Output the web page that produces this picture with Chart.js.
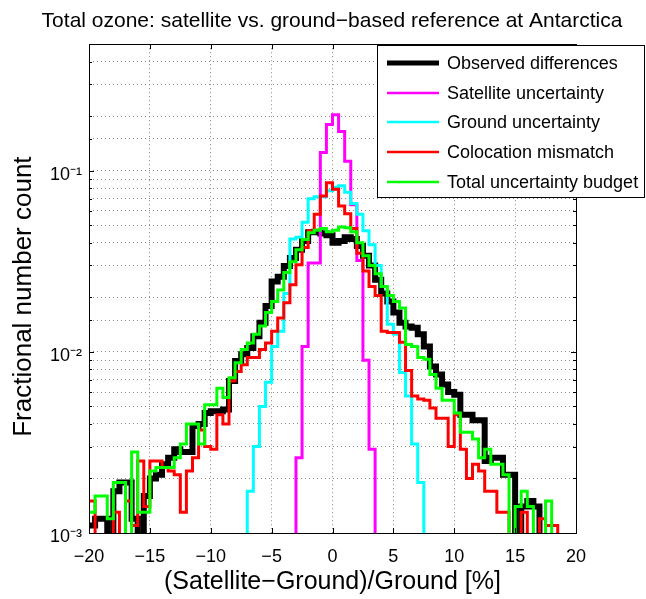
<!DOCTYPE html>
<html lang="en">
<head>
<meta charset="utf-8">
<title>Total ozone: satellite vs. ground-based reference at Antarctica</title>
<script src="https://cdn.jsdelivr.net/npm/chart.js@4.4.1/dist/chart.umd.min.js"></script>
<style>
  html, body { margin: 0; padding: 0; background: #fff; }
  #wrap { width: 646px; height: 599px; }
</style>
</head>
<body>
<div id="wrap"><canvas id="ozoneChart" width="646" height="599"></canvas></div>
<script>
// ------------------------------
//  Data : fraction of colocations per 0.5 % bin
//  bins go from -20 % to +20 %, 0 = empty bin
// ------------------------------
const BIN_START = -20;
const BIN_WIDTH = 0.5;
const X_TICKS = [-20, -15, -10, -5, 0, 5, 10, 15, 20];
const Y_MIN = 1e-3;
const Y_MAX = 0.5;
const Y_DECADES = [1e-3, 1e-2, 1e-1];
const Y_DECADE_LABELS = ["10\u207B\u00B3", "10\u207B\u00B2", "10\u207B\u00B9"];

const SERIES_LABELS = [
  "Observed differences",
  "Satellite uncertainty",
  "Ground uncertainty",
  "Colocation mismatch",
  "Total uncertainty budget"
];

const observed = [
  0.0011, 0.0012, 0.0012, 0, 0.0017, 0.0019, 0.0019, 0.0012, 0, 0.0016,
  0.0020, 0.0021, 0.0024, 0.0026, 0.0029, 0.0028, 0.0028, 0.0039, 0.0040, 0.0046,
  0.0047, 0.0047, 0.0048, 0.0069, 0.0089, 0.0097, 0.0105, 0.0122, 0.0145, 0.0179,
  0.0245, 0.0260, 0.0298, 0.0330, 0.0367, 0.0410, 0.0458, 0.0460, 0.0450, 0.0440,
  0.0400, 0.0410, 0.0430, 0.0420, 0.0384, 0.0340, 0.0300, 0.0250, 0.0210, 0.0190,
  0.0165, 0.0145, 0.0138, 0.0136, 0.0125, 0.0107, 0.0083, 0.0075, 0.0066, 0.0060,
  0.0058, 0.0045, 0.0045, 0.0042, 0.0042, 0.0025, 0.0026, 0.0026, 0.0021, 0.0021,
  0, 0.0014, 0.0015, 0.0014, 0, 0, 0, 0, 0, 0
];

const satellite = [
  0, 0, 0, 0, 0, 0, 0, 0, 0, 0,
  0, 0, 0, 0, 0, 0, 0, 0, 0, 0,
  0, 0, 0, 0, 0, 0, 0, 0, 0, 0,
  0, 0, 0, 0, 0.0026, 0.0107, 0.031, 0.031, 0.126, 0.180,
  0.204, 0.165, 0.113, 0.065, 0.032, 0.0090, 0.0029, 0, 0, 0,
  0, 0, 0, 0, 0, 0, 0, 0, 0, 0,
  0, 0, 0, 0, 0, 0, 0, 0, 0, 0,
  0, 0, 0, 0, 0, 0, 0, 0, 0, 0
];

const ground = [
  0, 0, 0, 0, 0, 0, 0, 0, 0, 0,
  0, 0, 0, 0, 0, 0, 0, 0, 0, 0,
  0, 0, 0, 0, 0, 0, 0.0017, 0.0030, 0.0050, 0.0068,
  0.0107, 0.0130, 0.0210, 0.0420, 0.0430, 0.0520, 0.0700, 0.0720, 0.0720, 0.0775,
  0.0810, 0.0827, 0.0760, 0.0660, 0.0575, 0.0466, 0.0390, 0.0300, 0.0230, 0.0142,
  0.0125, 0.0077, 0.0057, 0.0031, 0.0019, 0, 0, 0, 0, 0,
  0, 0, 0, 0, 0, 0, 0, 0, 0, 0,
  0, 0, 0, 0, 0, 0, 0, 0, 0, 0
];

const colocation = [
  0.0015, 0, 0, 0, 0.0013, 0, 0.0015, 0.0011, 0.0025, 0.0014,
  0.0025, 0.0025, 0.0023, 0.0022, 0.0021, 0.0013, 0.0022, 0.0026, 0.0037, 0.0030,
  0.0029, 0.0045, 0.0040, 0.0069, 0.0078, 0.0085, 0.0093, 0.0093, 0.0103, 0.0112,
  0.0130, 0.0154, 0.0187, 0.0235, 0.0303, 0.0377, 0.0466, 0.0575, 0.0725, 0.0860,
  0.0790, 0.0640, 0.0580, 0.0480, 0.0350, 0.0280, 0.0230, 0.0205, 0.0130, 0.0128,
  0.0128, 0.0113, 0.0079, 0.0057, 0.0055, 0.0054, 0.0049, 0.0043, 0.0043, 0.0030,
  0.0045, 0.0029, 0.0020, 0.0024, 0.0022, 0.0017, 0.0017, 0.0013, 0.0013, 0,
  0, 0.0013, 0, 0, 0.0012, 0.0011, 0.0011, 0, 0, 0
];

const totalBudget = [
  0.0013, 0.0016, 0.0016, 0.0012, 0.0019, 0.0019, 0, 0.0028, 0.0013, 0.0013,
  0.0022, 0.0023, 0.0023, 0.0023, 0.0026, 0.0031, 0.0040, 0.0040, 0.0031, 0.0051,
  0.0051, 0.0063, 0.0056, 0.0072, 0.0087, 0.0103, 0.0112, 0.0125, 0.0139, 0.0165,
  0.0190, 0.0220, 0.0274, 0.0315, 0.0367, 0.0417, 0.0455, 0.0470, 0.0480, 0.0460,
  0.0470, 0.0490, 0.0485, 0.0460, 0.0400, 0.0340, 0.0300, 0.0270, 0.0230, 0.0205,
  0.0190, 0.0175, 0.0110, 0.0107, 0.0093, 0.0091, 0.0075, 0.0063, 0.0054, 0.0054,
  0.0046, 0.0036, 0.0036, 0.0033, 0.0026, 0.0029, 0.0024, 0.0024, 0.0021, 0,
  0.0014, 0.0017, 0.0014, 0, 0, 0.0015, 0, 0, 0, 0
];

// empty bins are pushed below the axis so the step drops to the bottom
const EMPTY_BIN = Y_MIN / 10;

function histogramPoints(values) {
  const pts = values.map((v, i) => ({ x: BIN_START + i * BIN_WIDTH, y: v > 0 ? v : EMPTY_BIN }));
  pts.push({ x: BIN_START + values.length * BIN_WIDTH, y: pts[pts.length - 1].y });
  return pts;
}

function isDecade(v) {
  const e = Math.log10(v);
  return Math.abs(e - Math.round(e)) < 1e-6;
}

const FONT = '"Liberation Sans", Arial, sans-serif';

// ------------------------------
//  Plugins : MATLAB style box, y label, legend inside the axes
// ------------------------------
const matlabFrame = {
  id: "matlabFrame",
  afterDatasetsDraw(chart) {
    const { ctx, chartArea: a, scales } = chart;
    ctx.save();
    ctx.strokeStyle = "#000";
    ctx.lineWidth = 1;
    ctx.beginPath();
    scales.x.ticks.forEach(t => {
      const px = Math.round(scales.x.getPixelForValue(t.value)) + 0.5;
      ctx.moveTo(px, a.bottom); ctx.lineTo(px, a.bottom - 5);
      ctx.moveTo(px, a.top); ctx.lineTo(px, a.top + 5);
    });
    scales.y.ticks.forEach(t => {
      const py = Math.round(scales.y.getPixelForValue(t.value)) + 0.5;
      const len = isDecade(t.value) ? 5 : 3;
      ctx.moveTo(a.left, py); ctx.lineTo(a.left + len, py);
      ctx.moveTo(a.right, py); ctx.lineTo(a.right - len, py);
    });
    ctx.stroke();
    ctx.strokeRect(Math.round(a.left) + 0.5, Math.round(a.top) + 0.5, Math.round(a.width), Math.round(a.height));
    ctx.restore();
  }
};

const yLabel = {
  id: "yLabel",
  afterDraw(chart) {
    const { ctx, chartArea: a } = chart;
    ctx.save();
    ctx.translate(24, (a.top + a.bottom) / 2 + 8);
    ctx.rotate(-Math.PI / 2);
    ctx.font = "26px " + FONT;
    ctx.fillStyle = "#000";
    ctx.textAlign = "center";
    ctx.textBaseline = "middle";
    ctx.fillText("Fractional number count", 0, 0);
    ctx.restore();
  }
};

const legendBox = {
  id: "legendBox",
  afterDraw(chart) {
    const { ctx } = chart;
    const x = 377, y = 45, w = 268, h = 153;
    ctx.save();
    ctx.fillStyle = "#fff";
    ctx.fillRect(x, y, w, h);
    ctx.strokeStyle = "#000";
    ctx.lineWidth = 1;
    ctx.strokeRect(x + 0.5, y + 0.5, w - 1, h - 1);
    ctx.font = "18px " + FONT;
    ctx.textBaseline = "middle";
    chart.data.datasets.forEach((ds, i) => {
      const rowY = Math.round(y + 18 + i * 29.7);
      ctx.beginPath();
      ctx.strokeStyle = ds.borderColor;
      ctx.lineWidth = i === 0 ? 5 : 2.5;
      ctx.moveTo(x + 10, rowY);
      ctx.lineTo(x + 62, rowY);
      ctx.stroke();
      ctx.fillStyle = "#000";
      ctx.fillText(ds.label, x + 70, rowY + 1);
    });
    ctx.restore();
  }
};

// ------------------------------
//  Chart
// ------------------------------
Chart.defaults.font.family = FONT;
Chart.defaults.color = "#000";

const COLORS = ["#000000", "#ff00ff", "#00ffff", "#ff0000", "#00ff00"];
const allSeries = [observed, satellite, ground, colocation, totalBudget];

const ctx = document.getElementById("ozoneChart").getContext("2d");

const ozoneChart = new Chart(ctx, {
  type: "line",
  data: {
    datasets: allSeries.map((values, i) => ({
      label: SERIES_LABELS[i],
      data: histogramPoints(values),
      borderColor: COLORS[i],
      borderWidth: i === 0 ? 6 : 3,
      stepped: true,
      pointRadius: 0,
      fill: false,
      clip: 0,
      borderJoinStyle: "miter",
      order: allSeries.length - i
    }))
  },
  options: {
    responsive: false,
    animation: false,
    // left padding + empty right axis keep the title centred over the axes
    layout: { padding: { left: 18, right: 0, top: 0, bottom: 0 } },
    scales: {
      x: {
        type: "linear",
        min: X_TICKS[0],
        max: X_TICKS[X_TICKS.length - 1],
        afterBuildTicks: s => { s.ticks = X_TICKS.map(value => ({ value })); },
        afterFit: s => { s.height = 66; },
        ticks: {
          font: { size: 18 },
          padding: 13,
          maxRotation: 0,
          callback: v => String(v).replace("-", "\u2212")
        },
        grid: { color: "#888", lineWidth: 1, drawTicks: false },
        border: { display: false, dash: [1, 3] },
        title: {
          display: true,
          text: "(Satellite\u2212Ground)/Ground [%]",
          font: { size: 25 },
          padding: { top: 0, bottom: 2 }
        }
      },
      y: {
        type: "logarithmic",
        min: Y_MIN,
        max: Y_MAX,
        afterFit: s => { s.width = 71; },
        ticks: {
          autoSkip: false,
          font: { size: 18 },
          padding: 7,
          labelOffset: 4,
          callback: v => {
            const k = Y_DECADES.findIndex(d => Math.abs(d - v) / d < 1e-6);
            return k >= 0 ? Y_DECADE_LABELS[k] : "";
          }
        },
        grid: { color: "#888", lineWidth: 1, drawTicks: false },
        border: { display: false, dash: [1, 3] }
      },
      yRight: {
        type: "linear",
        position: "right",
        afterFit: s => { s.width = 70; },
        ticks: { display: false },
        grid: { display: false },
        border: { display: false }
      }
    },
    plugins: {
      legend: { display: false },
      tooltip: { enabled: false },
      title: {
        display: true,
        text: "Total ozone: satellite vs. ground\u2212based reference at Antarctica",
        font: { size: 21, weight: "normal" },
        color: "#000",
        padding: { top: 9, bottom: 10 }
      }
    }
  },
  plugins: [matlabFrame, yLabel, legendBox]
});
</script>
</body>
</html>
